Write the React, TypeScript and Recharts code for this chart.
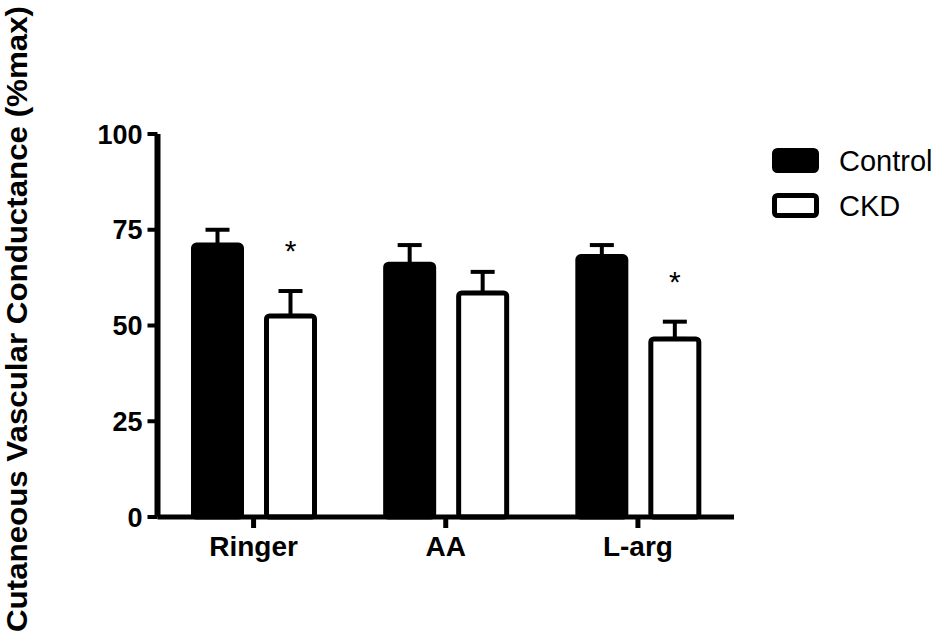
import React from 'react'
import { BarChart, Bar, XAxis, YAxis, ErrorBar, ReferenceDot, Label } from 'recharts'

// %max
const CATEGORIES = ['Ringer', 'AA', 'L-arg']
const CONTROL_MEAN = [71, 66, 68]
const CONTROL_SEM = [4, 5, 3]
const CKD_MEAN = [52.5, 58.5, 46.5]
const CKD_SEM = [6.5, 5.5, 4.5]
const SIGNIFICANT = [true, false, true]
const Y_TICKS = [0, 25, 50, 75, 100]

// Prism draws minor ticks along both axes; they show as faint stripes
const Y_MINOR = Array.from({ length: 81 }, (_, i) => i * 1.25)
const X_MINOR = Array.from({ length: 105 }, (_, i) => i + 1)

const FONT = '"Liberation Sans", Arial, Helvetica, sans-serif'

const chartData = CATEGORIES.map((name, i) => ({
  name,
  control: CONTROL_MEAN[i],
  controlErr: [0, CONTROL_SEM[i]],
  ckd: CKD_MEAN[i],
  ckdErr: [0, CKD_SEM[i]],
}))

const YTick = ({ x, y, payload }: any) => (
  <text
    x={x}
    y={y}
    dy="0.36em"
    textAnchor="end"
    fontFamily={FONT}
    fontWeight="bold"
    fontSize={27}
    fill="#000"
  >
    {payload.value}
  </text>
)

const XTick = ({ x, y, payload }: any) => (
  <text
    x={x}
    y={y}
    dy={26}
    textAnchor="middle"
    fontFamily={FONT}
    fontWeight="bold"
    fontSize={28}
    fill="#000"
  >
    {payload.value}
  </text>
)

const NoLabel = () => <g />

const YTitle = () => (
  <text
    transform="translate(27, 319) rotate(-90)"
    textAnchor="middle"
    fontFamily={FONT}
    fontWeight="bold"
    fontSize={30}
    textLength={626}
    lengthAdjust="spacingAndGlyphs"
    fill="#000"
  >
    Cutaneous Vascular Conductance (%max)
  </text>
)

// asterisk over the CKD bar (right bar of the pair)
const Star = ({ cx, cy }: any) => (
  <text x={cx + 37} y={cy - 30} textAnchor="middle" fontFamily={FONT} fontSize={30} fill="#000">
    *
  </text>
)

function LegendBox() {
  return (
    <svg
      width={180}
      height={90}
      style={{ position: 'absolute', left: 760, top: 135 }}
    >
      <rect x={14.5} y={15.5} width={42} height={20} rx={3} fill="#000" stroke="#000" strokeWidth={5} />
      <text x={79} y={36} fontFamily={FONT} fontSize={29} fill="#000">Control</text>
      <rect x={14.5} y={60.5} width={42} height={20} rx={3} fill="#fff" stroke="#000" strokeWidth={5} />
      <text x={79} y={81} fontFamily={FONT} fontSize={29} fill="#000">CKD</text>
    </svg>
  )
}

export default function App() {
  return (
    <div style={{ position: 'absolute', left: 0, top: 0, width: 943, height: 644, background: '#fff' }}>
      <BarChart
        width={943}
        height={644}
        data={chartData}
        margin={{ top: 134, right: 209, bottom: 67, left: 0 }}
        barSize={48}
        barGap={25}
      >
        <XAxis
          dataKey="name"
          height={60}
          axisLine={{ stroke: '#000', strokeWidth: 5 }}
          tickLine={{ stroke: '#000', strokeWidth: 5 }}
          tickSize={11}
          tickMargin={2}
          tick={<XTick />}
        />
        <YAxis
          type="number"
          domain={[0, 100]}
          ticks={Y_TICKS}
          width={157.5}
          axisLine={{ stroke: '#000', strokeWidth: 6 }}
          tickLine={{ stroke: '#000', strokeWidth: 4 }}
          tickSize={10}
          tickMargin={5}
          tick={<YTick />}
        >
          <Label content={<YTitle />} />
        </YAxis>
        <XAxis
          xAxisId="minor"
          type="number"
          domain={[0, 106]}
          ticks={X_MINOR}
          mirror
          height={0}
          axisLine={false}
          tick={<NoLabel />}
          tickSize={5}
          tickLine={{ stroke: '#777', strokeWidth: 1, transform: 'translate(0, 2.5)' }}
        />
        <YAxis
          yAxisId="minor"
          type="number"
          domain={[0, 100]}
          ticks={Y_MINOR}
          mirror
          width={0}
          axisLine={false}
          tick={<NoLabel />}
          tickSize={6}
          tickLine={{ stroke: '#777', strokeWidth: 1, transform: 'translate(-3, 0)' }}
        />
        <Bar dataKey="control" fill="#000" stroke="#000" strokeWidth={5} radius={3} isAnimationActive={false}>
          <ErrorBar dataKey="controlErr" width={12} stroke="#000" strokeWidth={4} direction="y" />
        </Bar>
        <Bar dataKey="ckd" fill="#fff" stroke="#000" strokeWidth={5} radius={3} isAnimationActive={false}>
          <ErrorBar dataKey="ckdErr" width={12} stroke="#000" strokeWidth={4} direction="y" />
        </Bar>
        {CATEGORIES.map((c, i) =>
          SIGNIFICANT[i] ? (
            <ReferenceDot key={c} x={c} y={CKD_MEAN[i] + CKD_SEM[i]} shape={<Star />} />
          ) : null
        )}
      </BarChart>
      <LegendBox />
    </div>
  )
}
